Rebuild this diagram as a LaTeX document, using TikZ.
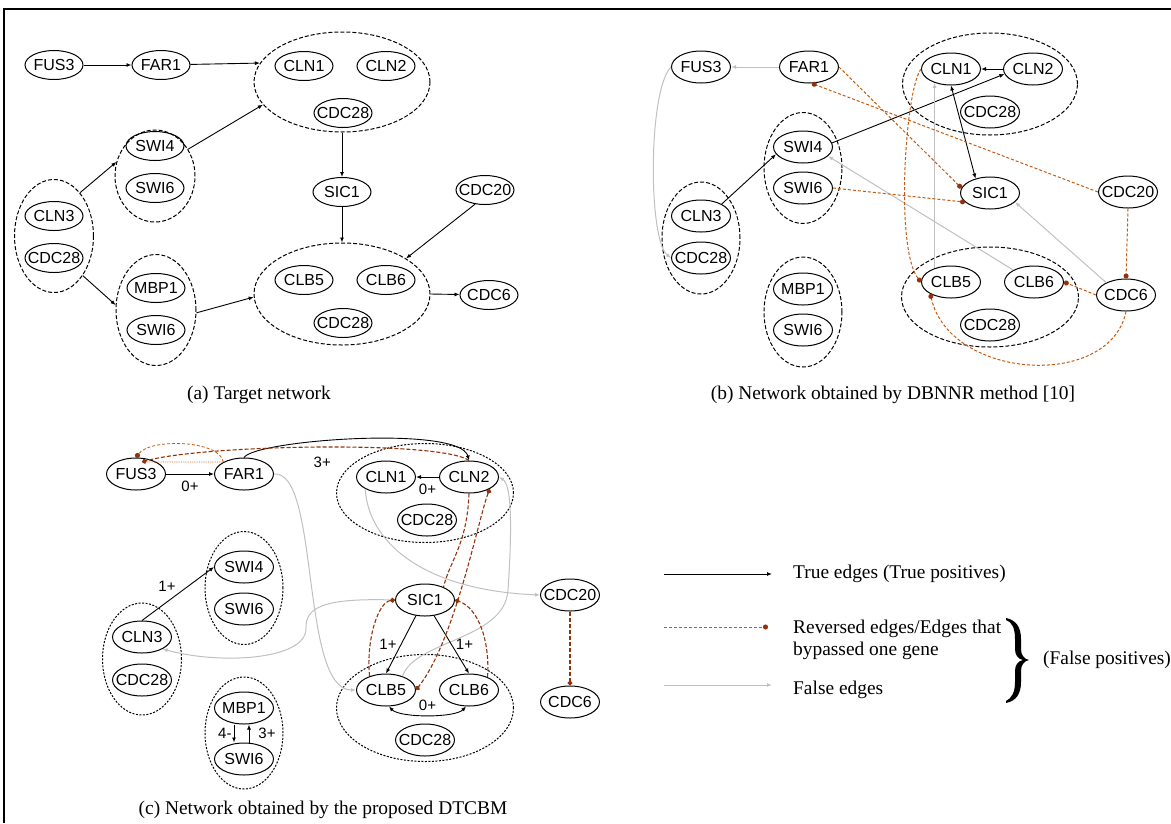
\documentclass[tikz,border=0pt]{standalone}
\usepackage{fontspec}
\setmainfont{Liberation Serif}
\setsansfont{Liberation Sans}
\usetikzlibrary{arrows.meta, positioning, shapes.geometric}

\definecolor{revlt}{RGB}{197,90,17}
\definecolor{revdk}{RGB}{145,50,10}
\definecolor{flsgr}{RGB}{192,192,192}

\tikzset{
  gene/.style={draw, ellipse, line width=1pt, minimum width=59pt, minimum height=32pt, inner sep=0pt, label={[genetxt]center:#1}},
  genetxt/.style={font=\sffamily\fontsize{16}{18}\selectfont, inner sep=0pt},
  grp/.style={draw, ellipse, line width=1pt, dash pattern=on 4pt off 2pt, inner sep=0pt},
  tru/.style={line width=0.9pt, -{Latex[length=5pt,width=4pt]}},
  tru2/.style={line width=0.9pt, {Latex[length=5pt,width=4pt]}-{Latex[length=5pt,width=4pt]}},
  fls/.style={flsgr, line width=1pt, -{Latex[length=5pt,width=4pt]}},
  rev/.style={revlt, line width=1pt, dash pattern=on 3pt off 2pt, -{Circle[length=5pt,color=revdk]}},
  revd/.style={revdk, line width=1.1pt, dash pattern=on 4pt off 2pt, -{Circle[length=5pt]}},
  elbl/.style={font=\sffamily\fontsize{15}{17}\selectfont, inner sep=2pt},
  captxt/.style={font=\fontsize{19.4}{22}\selectfont, inner sep=0pt},
}

\begin{document}
\begin{tikzpicture}[x=1pt, y=-1pt]
\useasboundingbox (0,0) rectangle (1171,823);
\draw[line width=1.5pt] (4,823) -- (4,9) -- (1171,9);

% (a)
\begin{scope}[gene/.append style={minimum width=58pt, minimum height=29pt}]
\node[grp, minimum width=176pt, minimum height=100pt] (topA) at (342,82) {};
\node[grp, minimum width=80pt, minimum height=92pt] (swgA) at (155,176) {};
\node[grp, minimum width=79pt, minimum height=113pt] (c3gA) at (54,236) {};
\node[grp, minimum width=80pt, minimum height=111pt] (mbgA) at (156,310) {};
\node[grp, minimum width=176pt, minimum height=102pt] (botA) at (342,294) {};
\node[gene=FUS3] (fusA) at (54,65) {};
\node[gene=FAR1] (farA) at (161,65) {};
\node[gene=CLN1] (cln1A) at (304,66) {};
\node[gene=CLN2] (cln2A) at (386,66) {};
\node[gene=CDC28] (c28tA) at (343,113) {};
\node[gene=SWI4] (swi4A) at (155,146) {};
\node[gene=SWI6] (swi6A) at (155,188) {};
\node[gene=CLN3] (cln3A) at (54,216) {};
\node[gene=CDC28] (c28lA) at (54,258) {};
\node[gene=MBP1] (mbpA) at (156,288) {};
\node[gene=SWI6] (swi6bA) at (156,330) {};
\node[gene=SIC1] (sicA) at (342,192) {};
\node[gene=CDC20] (cdc20A) at (485,190) {};
\node[gene=CLB5] (clb5A) at (304,280) {};
\node[gene=CLB6] (clb6A) at (386,280) {};
\node[gene=CDC28] (c28bA) at (343,323) {};
\node[gene=CDC6] (cdc6A) at (489,295) {};
\end{scope}
\draw[tru] (fusA) -- (farA);
\draw[tru] (farA) -- (topA.167);
\draw[tru] (c3gA.59) -- (swgA.160);
\draw[tru] (c3gA.-54) -- (mbgA.173);
\draw[tru] (swgA.39) -- (topA.196);
\draw[tru] (mbgA.-4) -- (botA.182);
\draw[tru] (topA.south) -- (sicA);
\draw[tru] (sicA) -- (botA.north);
\draw[tru] (cdc20A.235) -- (botA.29);
\draw[tru] (botA.east) -- (cdc6A);
\node[captxt] (capA) at (259,395) {(a) Target network};

% (b)
\node[grp, minimum width=175pt, minimum height=102pt] (topB) at (990,84) {};
\node[grp, minimum width=78pt, minimum height=111pt] (swgB) at (803,168) {};
\node[grp, minimum width=78pt, minimum height=112pt] (c3gB) at (701,238) {};
\node[grp, minimum width=78pt, minimum height=110pt] (mbgB) at (803,312) {};
\node[grp, minimum width=177pt, minimum height=100pt] (botB) at (990,297) {};
\node[gene=FUS3] (fusB) at (701,67) {};
\node[gene=FAR1] (farB) at (809,67) {};
\node[gene=CLN1] (cln1B) at (951,69) {};
\node[gene=CLN2] (cln2B) at (1033,69) {};
\node[gene=CDC28] (c28tB) at (990,112) {};
\node[gene=SWI4] (swi4B) at (803,147) {};
\node[gene=SWI6] (swi6B) at (803,188) {};
\node[gene=CLN3] (cln3B) at (701,216) {};
\node[gene=CDC28] (c28lB) at (701,258) {};
\node[gene=MBP1] (mbpB) at (803,289) {};
\node[gene=SWI6] (swi6bB) at (803,330) {};
\node[gene=SIC1] (sicB) at (990,193) {};
\node[gene=CDC20] (cdc20B) at (1128,192) {};
\node[gene=CLB5] (clb5B) at (951,282) {};
\node[gene=CLB6] (clb6B) at (1034,282) {};
\node[gene=CDC28] (c28bB) at (990,325) {};
\node[gene=CDC6] (cdc6B) at (1126,295) {};
\draw[fls] (farB) -- (fusB);
\draw[fls] (fusB.west) .. controls (648,90) and (648,240) .. (c28lB.west);
\draw[tru] (cln3B.30) -- (swi4B.195);
\draw[tru] (swi4B.8) -- (cln2B.190);
\draw[tru] (cln2B) -- (cln1B);
\draw[tru2] (cln1B.south) -- (sicB.135);
\draw[fls] (clb5B.140) -- (cln1B.220);
\draw[fls] (clb6B.150) -- (swi4B.-20);
\draw[fls] (cdc6B.148) -- (sicB.-20);
\draw[rev] (farB.east) -- (sicB.170);
\draw[rev] (cdc20B.west) -- (farB.-80);
\draw[rev] (swi6B.east) -- (sicB.200);
\draw[rev] (cln1B.west) .. controls (905,90) and (895,250) .. (clb5B.west);
\draw[rev] (cdc6B.south) .. controls (1110,390) and (950,380) .. (clb5B.210);
\draw[rev] (cdc6B.west) -- (clb6B.east);
\draw[rev] (cdc20B.south) -- (cdc6B.north);
\node[captxt] (capB) at (893,395) {(b) Network obtained by DBNNR method [10]};

% (c)
\begin{scope}[grp/.append style={dash pattern=on 2pt off 1.5pt}]
\node[grp, minimum width=177pt, minimum height=99pt] (topC) at (425,493) {};
\node[grp, minimum width=78pt, minimum height=113pt] (swgC) at (244,588) {};
\node[grp, minimum width=79pt, minimum height=112pt] (c3gC) at (142,659) {};
\node[grp, minimum width=78pt, minimum height=112pt] (mbgC) at (244,733) {};
\node[grp, minimum width=177pt, minimum height=107pt] (botC) at (425,708) {};
\end{scope}
\node[gene=FUS3] (fusC) at (136,474) {};
\node[gene=FAR1] (farC) at (244,474) {};
\node[gene=CLN1] (cln1C) at (386,477) {};
\node[gene=CLN2] (cln2C) at (469,477) {};
\node[gene=CDC28] (c28tC) at (427,520) {};
\node[gene=SWI4] (swi4C) at (244,567) {};
\node[gene=SWI6] (swi6C) at (244,609) {};
\node[gene=CLN3] (cln3C) at (142,637) {};
\node[gene=CDC28] (c28lC) at (142,680) {};
\node[gene=MBP1] (mbpC) at (244,708) {};
\node[gene=SWI6] (swi6bC) at (244,759) {};
\node[gene=SIC1] (sicC) at (425,600) {};
\node[gene=CDC20] (cdc20C) at (570,595) {};
\node[gene=CLB5] (clb5C) at (386,690) {};
\node[gene=CLB6] (clb6C) at (469,690) {};
\node[gene=CDC28] (c28bC) at (425,740) {};
\node[gene=CDC6] (cdc6C) at (570,702) {};
\coordinate (fdot) at (142,462);
\draw[tru] (fusC) -- node[elbl, below=5pt] {0+} (farC);
\draw[tru] (farC.north) .. controls (255,440) and (460,425) .. node[elbl, pos=.39, below=14pt] {3+} (cln2C.north);
\draw[tru] (cln2C) -- node[elbl, below=5pt] {0+} (cln1C);
\draw[rev, line width=.8pt] (farC.150) .. controls (220,440) and (150,438) .. (fusC.north);
\draw[revlt, line width=.8pt, densely dotted] (farC.150) -- (fdot);
\draw[revd] (cln2C.north) .. controls (440,440) and (200,445) .. (fdot);
\draw[fls] (farC.east) .. controls (320,470) and (300,690) .. (clb5C.west);
\draw[fls] (cln1C.210) .. controls (368,540) and (420,590) .. (cdc20C.west);
\draw[fls] (sicC.west) .. controls (330,598) and (305,605) .. (306,628) .. controls (307,660) and (220,665) .. (cln3C.-30);
\draw[fls] (clb5C.40) .. controls (415,640) and (505,640) .. (508,590) .. controls (512,530) and (512,485) .. (cln2C.east);
\draw[tru] (cln3C.north) -- node[elbl, above left=0pt] {1+} (swi4C.west);
\draw[tru] (sicC.240) -- node[elbl, left=2pt] {1+} (clb5C.north);
\draw[tru] (sicC.300) -- node[elbl, right=2pt] {1+} (clb6C.north);
\draw[tru2] (clb5C.-80) .. controls (400,718) and (455,718) .. node[elbl, above=2pt] {0+} (clb6C.-100);
\draw[revd] (clb5C.140) .. controls (366,640) and (378,602) .. (sicC.west);
\draw[revd] (clb6C.35) .. controls (490,640) and (478,608) .. (sicC.east);
\draw[revd, {Circle[length=5pt]}-{Circle[length=5pt]}] (cln2C.-30) .. controls (478,520) and (455,640) .. (clb5C.east);
\draw[revd, -] (cln2C.south) .. controls (467,545) and (450,560) .. (sicC.35);
\draw[revd] (cdc20C.south) -- (cdc6C.north);
\draw[tru] ([xshift=-10pt]mbpC.south) -- node[elbl, left] {4-} ([xshift=-10pt]swi6bC.north);
\draw[tru] ([xshift=5pt]swi6bC.north) -- node[elbl, right=7pt] {3+} ([xshift=5pt]mbpC.south);
\node[captxt] (capC) at (323,810) {(c) Network obtained by the proposed DTCBM};

% legend
\coordinate (lgT1) at (664,574);
\coordinate (lgT2) at (772,574);
\coordinate (lgR1) at (664,627);
\coordinate (lgR2) at (768,627);
\coordinate (lgF1) at (664,685);
\coordinate (lgF2) at (772,685);
\draw[tru] (lgT1) -- (lgT2);
\draw[rev] (lgR1) -- (lgR2);
\draw[fls] (lgF1) -- (lgF2);
\node[captxt, anchor=west] (lgT) at (793,574) {True edges (True positives)};
\node[captxt, anchor=west, align=left] (lgR) at (793,640) {Reversed edges/Edges that\\bypassed one gene};
\node[captxt, anchor=west] (lgF) at (793,690) {False edges};
\fill (1006,618) .. controls (1016,620) and (1021,627) .. (1021,639) -- (1021,649)
  .. controls (1021,655) and (1024,659) .. (1029,660) .. controls (1024,661) and (1021,665) .. (1021,671)
  -- (1021,682) .. controls (1021,694) and (1016,701) .. (1006,703) -- (1006,701)
  .. controls (1012,698) and (1015,692) .. (1015,682) -- (1015,671) .. controls (1015,665) and (1018,661) .. (1023,660)
  .. controls (1018,659) and (1015,655) .. (1015,649) -- (1015,639) .. controls (1015,628) and (1012,622) .. (1006,620) -- cycle;
\node[captxt, anchor=west] (lgFP) at (1043,660) {(False positives)};
\end{tikzpicture}
\end{document}
